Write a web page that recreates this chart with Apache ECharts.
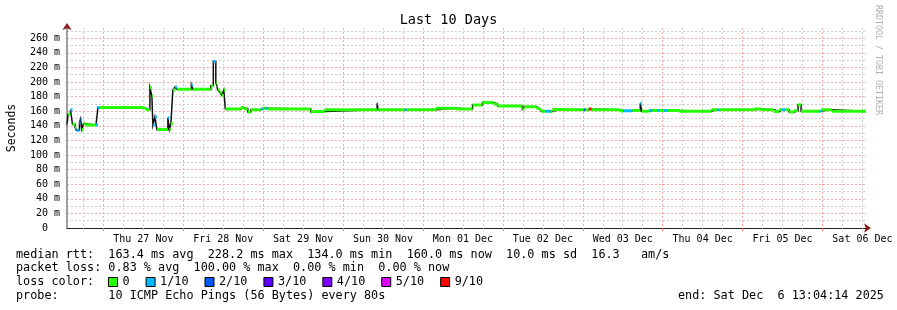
<!DOCTYPE html>
<html>
<head>
<meta charset="utf-8">
<script src="https://cdn.jsdelivr.net/npm/echarts@6/dist/echarts.min.js"></script>
<style>
html, body { margin: 0; padding: 0; background: #fff; }
#chart { width: 897px; height: 310px; }
</style>
</head>
<body>
<div id="chart"></div>
<script>
"use strict";
// step samples: start hour (from Wed 26 Nov 13:04:14), median rtt (ms), lost pings out of 10
const segStart = [0, 0.3, 1.05, 1.65, 2.4, 2.85, 3.75, 4.05, 4.5, 4.95, 5.4, 8.7, 9.3, 9.75, 22.8, 23.7,
    24.9, 25.5, 25.8, 26.4, 27.0, 30.3, 30.75, 31.2, 31.8, 32.4, 33.0, 37.35, 37.8, 43.2, 43.95, 44.7,
    45.0, 45.3, 45.9, 46.5, 47.1, 47.55, 52.2, 53.1, 54.3, 55.2, 58.2, 58.8, 59.7, 60.3, 73.2, 73.8,
    77.4, 93.15, 93.45, 101.4, 102.0, 110.85, 117.0, 121.8, 124.8, 128.1, 129.3, 136.8, 137.4, 141.0,
    141.9, 142.5, 143.7, 145.2, 145.8, 149.4, 155.25, 155.7, 156.75, 157.5, 165.9, 167.1, 169.8, 172.2,
    172.65, 174.9, 175.8, 177.3, 177.9, 179.4, 180.3, 183.9, 193.5, 195.3, 195.9, 206.4, 208.5, 212.4,
    213.9, 214.8, 215.7, 216.9, 218.4, 219.6, 220.5, 225.9, 226.5, 229.8];
const medianMs = [141, 156, 162, 142, 138, 134, 144, 149, 135, 143, 141, 141, 165, 165, 164, 162,
    192, 181, 141, 152, 135, 151, 135, 143, 189, 193, 190, 196, 190, 195, 228, 199,
    195, 189, 186, 182, 189, 163, 165, 163.5, 159, 162, 163, 164, 164, 163, 159, 159.5,
    162, 171, 162, 162, 162, 164, 163, 168.5, 172, 170, 167, 163, 166, 164,
    162, 160, 160, 159, 162.5, 162, 162, 162, 163, 162, 160.5, 160.5, 161, 171,
    160, 161, 161, 161, 161, 161, 161, 160, 162, 162, 162, 163, 162, 159.5,
    162, 162, 162, 159, 160.5, 169, 160, 160, 162, 160];
const lossTenths = [1, 0, 1, 0, 0, 1, 1, 1, 0, 0, 0, 1, 1, 0, 0, 0,
    0, 0, 1, 1, 0, 1, 0, 0, 0, 1, 0, 1, 0, 0, 1, 0,
    0, 0, 0, 0, 0, 0, 0, 0, 0, 0, 1, 0, 1, 0, 0, 0,
    0, 1, 0, 1, 0, 0, 0, 0, 0, 0, 0, 0, 0, 0,
    0, 0, 1, 0, 0, 0, 2, 0, 9, 0, 0, 1, 0, 1,
    0, 1, 0, 1, 0, 1, 0, 0, 0, 1, 0, 0, 0, 0,
    0, 1, 0, 0, 0, 0, 0, 1, 0, 0];
const spanHours = 240;
const firstMidnight = 10.93;
const dayLabels = ['Thu 27 Nov', 'Fri 28 Nov', 'Sat 29 Nov', 'Sun 30 Nov', 'Mon 01 Dec',
    'Tue 02 Dec', 'Wed 03 Dec', 'Thu 04 Dec', 'Fri 05 Dec', 'Sat 06 Dec'];
const yMajor = [0, 20, 40, 60, 80, 100, 120, 140, 160, 180, 200, 220, 240, 260];
const yMinor = [10, 30, 50, 70, 90, 110, 130, 150, 170, 190, 210, 230, 250, 270];
const lossNames = ['0', '1/10', '2/10', '3/10', '4/10', '5/10', '9/10'];
const lossLevels = [0, 1, 2, 3, 4, 5, 9];
const lossColors = ['#26ff00', '#00b8ff', '#0059ff', '#5e00ff', '#7e00ff', '#dd00ff', '#ff0000'];
const statsLine = 'median rtt:  163.4 ms avg  228.2 ms max  134.0 ms min  160.0 ms now  10.0 ms sd  16.3   am/s';
const lossLine = 'packet loss: 0.83 % avg  100.00 % max  0.00 % min  0.00 % now';
const probeLine = 'probe:       10 ICMP Echo Pings (56 Bytes) every 80s';
const endLine = 'end: Sat Dec  6 13:04:14 2025';

(() => {
    const mono = 'DejaVu Sans Mono';
    const legendFont = '11.8px "' + mono + '"';
    let chart = echarts.init(document.getElementById('chart'), null, {renderer: 'canvas'});

    let midnights = [], noons = [], quarters = [];
    for (let t = firstMidnight; t < spanHours; t += 24) midnights.push(t);
    for (let t = firstMidnight + 12; t < spanHours; t += 24) noons.push(t);
    for (let t = firstMidnight - 6; t < spanHours; t += 6) {
        if (t > 0 && !midnights.some(m => Math.abs(m - t) < 0.01)) quarters.push(t);
    }

    // black step line for the risers
    let stepData = segStart.map((t, i) => [t, medianMs[i]]);
    stepData.push([spanHours, medianMs[medianMs.length - 1]]);

    let series = [{
        name: 'rtt',
        type: 'line',
        step: 'end',
        data: stepData,
        showSymbol: false,
        lineStyle: {color: '#111', width: 1.5, join: 'miter', cap: 'butt'},
        z: 2
    }];
    // horizontal pieces coloured by loss
    lossLevels.forEach((lvl, k) => {
        let d = [];
        segStart.forEach((t, i) => {
            if (lossTenths[i] !== lvl) return;
            let next = i + 1 < segStart.length ? segStart[i + 1] : spanHours;
            d.push([t, medianMs[i]], [next, medianMs[i]], [next, '-']);
        });
        series.push({
            name: lossNames[k],
            type: 'line',
            data: d,
            showSymbol: false,
            connectNulls: false,
            color: lossColors[k],
            lineStyle: {color: lossColors[k], width: 3, cap: 'butt'},
            z: 3
        });
    });

    let option = {
        backgroundColor: '#fff',
        animation: false,
        title: {
            text: 'Last 10 Days',
            left: 'center',
            top: 13,
            padding: 0,
            textStyle: {fontFamily: mono, fontSize: 13.5, fontWeight: 'normal', color: '#000'}
        },
        legend: {
            data: lossNames,
            left: 108,
            top: 276,
            padding: 0,
            itemGap: 16,
            itemWidth: 9,
            itemHeight: 9,
            icon: 'rect',
            selectedMode: false,
            itemStyle: {borderColor: '#000', borderWidth: 1},
            textStyle: {fontFamily: mono, fontSize: 11.8, color: '#000'}
        },
        grid: {left: 67, right: 31, top: 28, bottom: 82, containLabel: false, outerBoundsMode: 'none'},
        xAxis: [{
            type: 'value',
            min: 0,
            max: spanHours,
            axisLine: {show: true, lineStyle: {color: '#222', width: 1}},
            axisTick: {show: true, length: 2, customValues: quarters, lineStyle: {color: '#bbb'}},
            axisLabel: {
                customValues: noons,
                margin: 6,
                fontFamily: mono,
                fontSize: 10,
                color: '#000',
                formatter: v => dayLabels[Math.round((v - firstMidnight - 12) / 24)]
            },
            splitLine: {show: true, lineStyle: {color: '#d0d0d0', type: [2, 2], width: 1}}
        }, {
            type: 'value',
            min: 0,
            max: spanHours,
            position: 'bottom',
            axisLine: {show: true, symbol: ['none', 'arrow'], symbolSize: [7, 7], symbolOffset: [0, 5],
                lineStyle: {color: '#8b1a1a', width: 0}},
            axisTick: {show: true, length: 3, customValues: midnights, lineStyle: {color: '#ff8080'}},
            axisLabel: {show: false},
            splitLine: {show: true, lineStyle: {color: '#ffa8a8', type: [2, 2], width: 1}}
        }],
        yAxis: [{
            type: 'value',
            min: 0,
            max: 274,
            name: 'Seconds',
            nameLocation: 'middle',
            nameRotate: 90,
            nameGap: 49,
            nameTextStyle: {fontFamily: mono, fontSize: 11.5, color: '#000'},
            axisLine: {show: true, lineStyle: {color: '#808080', width: 1.5}},
            axisTick: {show: false, customValues: yMinor},
            axisLabel: {
                customValues: yMajor,
                margin: 7,
                fontFamily: mono,
                fontSize: 10,
                color: '#000',
                formatter: v => v === 0 ? '0  ' : v + ' m'
            },
            splitLine: {show: true, lineStyle: {color: '#d0d0d0', type: [2, 2], width: 1}}
        }, {
            type: 'value',
            min: 0,
            max: 274,
            position: 'left',
            axisLine: {show: true, symbol: ['none', 'arrow'], symbolSize: [7, 7], symbolOffset: [0, 5],
                lineStyle: {color: '#8b1a1a', width: 0}},
            axisTick: {show: false, customValues: yMajor.slice(1)},
            axisLabel: {show: false},
            splitLine: {show: true, lineStyle: {color: '#ffa8a8', type: [2, 2], width: 1}}
        }],
        graphic: [
            {type: 'text', x: 16, y: 254.5, style: {text: statsLine, font: legendFont, fill: '#000', verticalAlign: 'middle'}},
            {type: 'text', x: 16, y: 268.3, style: {text: lossLine, font: legendFont, fill: '#000', verticalAlign: 'middle'}},
            {type: 'text', x: 16, y: 282.3, style: {text: 'loss color:', font: legendFont, fill: '#000', verticalAlign: 'middle'}},
            {type: 'text', x: 16, y: 296, style: {text: probeLine, font: legendFont, fill: '#000', verticalAlign: 'middle'}},
            {type: 'text', x: 678, y: 296, style: {text: endLine, font: legendFont, fill: '#000', verticalAlign: 'middle'}},
            {type: 'text', x: 882, y: 5, rotation: -Math.PI / 2,
                style: {text: 'RRDTOOL / TOBI OETIKER', font: '8.3px "' + mono + '"', fill: '#b0b0b0', verticalAlign: 'top'}}
        ],
        series: series
    };
    chart.setOption(option);
})();
</script>
</body>
</html>
